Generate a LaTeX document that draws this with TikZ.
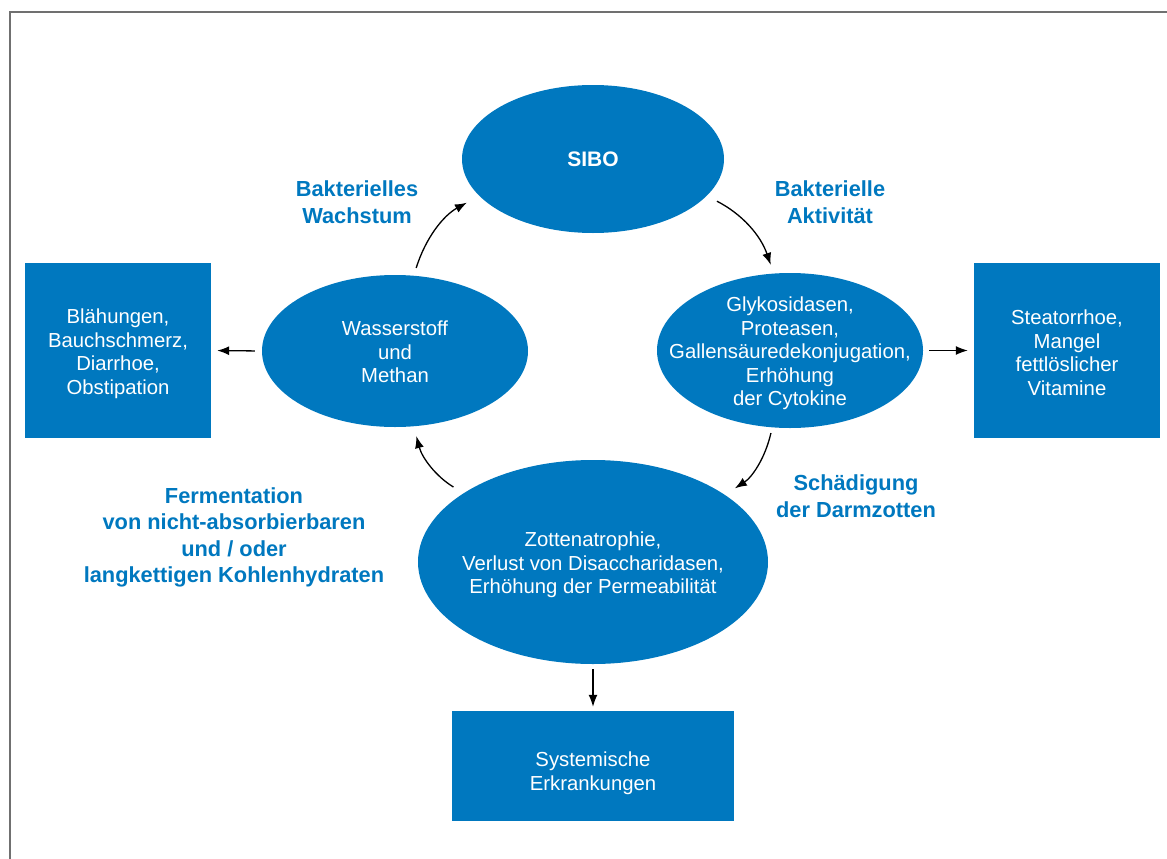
\documentclass[tikz,border=0pt]{standalone}
\usepackage{fontspec}
\setmainfont{Liberation Sans}
\usetikzlibrary{shapes.geometric,arrows.meta}
\definecolor{sibo}{HTML}{0078BF}
\definecolor{framegray}{HTML}{707070}
\begin{document}
\begin{tikzpicture}[x=1pt,y=1pt,
  body/.style={text=white,align=center,font=\fontsize{20.3}{23.5}\selectfont,yshift=-3pt},
  blob/.style={ellipse,fill=sibo,draw=none,inner sep=0pt},
  panel/.style={rectangle,fill=sibo,draw=none,inner sep=0pt},
  caption/.style={text=sibo,align=center,font=\bfseries\fontsize{21.8}{26.5}\selectfont},
  arr/.style={-{Latex[length=12pt,width=9pt]},line width=1.3pt,black},
  curl/.style={arr,bend left=22}]
\useasboundingbox (0,0) rectangle (1167,-859);
% open frame: top and left edges only
\draw[framegray,line width=1.6pt] (10,-859) -- (10,-12) -- (1167,-12);

% central cycle (shapes keep fixed sizes, text sits on the centre)
\node[blob,minimum width=262pt,minimum height=148pt,
  label={[text=white,font=\bfseries\fontsize{21}{25}\selectfont]center:SIBO}]
  (sibo) at (593,-159) {};
\node[blob,minimum width=266pt,minimum height=152pt,
  label={[body,yshift=2pt]center:{Wasserstoff\\und\\Methan}}] (gas) at (395,-351) {};
\node[blob,minimum width=266pt,minimum height=155pt,
  label={[body]center:{Glykosidasen,\\Proteasen,\\Gallensäuredekonjugation,\\Erhöhung\\der Cytokine}}]
  (enz) at (790,-350.5) {};
\node[blob,minimum width=350pt,minimum height=204pt,
  label={[body]center:{Zottenatrophie,\\Verlust von Disaccharidasen,\\Erhöhung der Permeabilität}}]
  (zot) at (593,-562) {};

% consequences
\node[panel,minimum width=186pt,minimum height=175pt,
  label={[body]center:{Blähungen,\\Bauchschmerz,\\Diarrhoe,\\Obstipation}}]
  (sym) at (118,-350.5) {};
\node[panel,minimum width=186pt,minimum height=175pt,
  label={[body,yshift=1pt]center:{Steatorrhoe,\\Mangel\\fettlöslicher\\Vitamine}}]
  (fett) at (1067,-350.5) {};
\node[panel,minimum width=282pt,minimum height=110pt,
  label={[body,yshift=-4pt]center:{Systemische\\Erkrankungen}}]
  (sys) at (593,-766) {};

% cycle labels
\node[caption] (lwachs) at (357,-202) {Bakterielles\\Wachstum};
\node[caption] (lakt) at (830,-202) {Bakterielle\\Aktivität};
\node[caption] (lschad) at (856,-496) {Schädigung\\der Darmzotten};
\node[caption] (lferm) at (234,-537.5)
  {Fermentation\\von nicht-absorbierbaren\\und / oder\\langkettigen Kohlenhydraten};

% cycle arrows
\draw[curl,shorten <=8pt,shorten >=14pt] (gas.76.5) to (sibo.198.4);
\draw[curl,shorten <=11.5pt,shorten >=9pt] (sibo.342.3) to (enz.102.5);
\draw[curl,shorten <=5.7pt,shorten >=11.8pt] (enz.257.7) to (zot.27.9);
\draw[curl,shorten <=11.8pt,shorten >=10pt] (zot.152.1) to (gas.284.5);

% outward arrows
\draw[arr,shorten <=7pt,shorten >=6pt] (gas.west) -- (sym.east);
\draw[arr,shorten <=6pt,shorten >=6pt] (enz.east) -- (fett.west);
\draw[arr,shorten <=5pt,shorten >=4pt] (zot.south) -- (sys.north);
\end{tikzpicture}
\end{document}
